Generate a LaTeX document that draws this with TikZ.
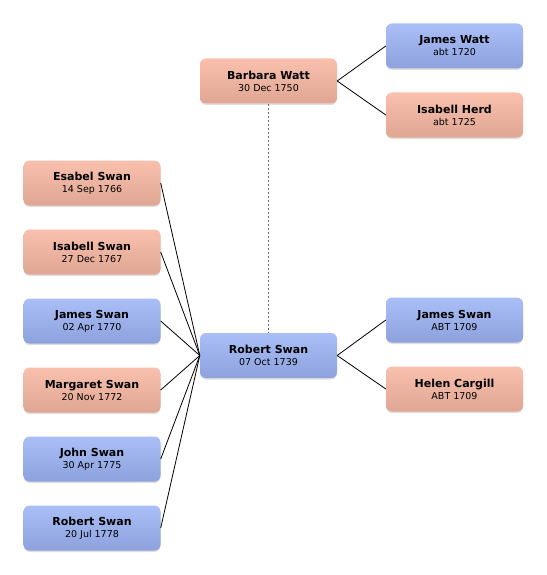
\documentclass[tikz,border=0pt]{standalone}
\usepackage{fontspec}
\setmainfont{DejaVu Sans}
\usetikzlibrary{shadows}
\definecolor{btop}{HTML}{AABFF7}
\definecolor{bbot}{HTML}{8DA2DD}
\definecolor{ptop}{HTML}{F9C1AD}
\definecolor{pbot}{HTML}{DEA693}
\tikzset{
  person/.style={rectangle, rounded corners=6pt, minimum width=137pt, minimum height=45pt,
    align=center, inner sep=0pt, draw=none,
    drop shadow={opacity=0.25, shadow xshift=0pt, shadow yshift=-1.5pt}},
  male/.style={person, top color=btop, bottom color=bbot},
  female/.style={person, top color=ptop, bottom color=pbot},
  link/.style={draw=black, line width=0.8pt},
  spouse/.style={draw=black!60, line width=1.3pt, dash pattern=on 2pt off 2pt},
}
\newcommand{\pname}[2]{{\fontsize{11}{13}\selectfont\bfseries #1}\\[0pt]{\fontsize{9.5}{11}\selectfont #2}}
\begin{document}
\begin{tikzpicture}[x=1pt,y=-1pt]
\useasboundingbox (0,0) rectangle (546,575);
\node[female] (barbara) at (268.5,81) {\pname{Barbara Watt}{30 Dec 1750}};
\node[male] (jwatt) at (454.5,46) {\pname{James Watt}{abt 1720}};
\node[female] (iherd) at (454.5,115) {\pname{Isabell Herd}{abt 1725}};
\node[male] (robert) at (268.5,355.5) {\pname{Robert Swan}{07 Oct 1739}};
\node[male] (jswan) at (454.5,320) {\pname{James Swan}{ABT 1709}};
\node[female] (helen) at (454.5,389) {\pname{Helen Cargill}{ABT 1709}};
\node[female] (esabel) at (92,183) {\pname{Esabel Swan}{14 Sep 1766}};
\node[female] (isabell) at (92,252) {\pname{Isabell Swan}{27 Dec 1767}};
\node[male] (james) at (92,321) {\pname{James Swan}{02 Apr 1770}};
\node[female] (margaret) at (92,390) {\pname{Margaret Swan}{20 Nov 1772}};
\node[male] (john) at (92,459) {\pname{John Swan}{30 Apr 1775}};
\node[male] (rob2) at (92,528) {\pname{Robert Swan}{20 Jul 1778}};
\draw[link] (barbara.east) -- (jwatt.west);
\draw[link] (barbara.east) -- (iherd.west);
\draw[link] (robert.east) -- (jswan.west);
\draw[link] (robert.east) -- (helen.west);
\foreach \c in {esabel,isabell,james,margaret,john,rob2}
  \draw[link] (\c.east) -- (robert.west);
\draw[spouse] (barbara.south) -- (robert.north);
\end{tikzpicture}
\end{document}
